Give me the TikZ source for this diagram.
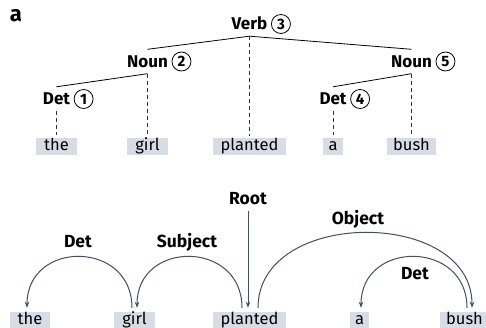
\documentclass[tikz,border=0pt]{standalone}
\usepackage{fontspec}
\setmainfont{Fira Sans}
\usetikzlibrary{arrows.meta}
\definecolor{arcc}{HTML}{3F4E6B}
\definecolor{wordbg}{HTML}{D8DCE5}
\begin{document}
\begin{tikzpicture}[x=1pt,y=-1pt,
  word/.style={fill=wordbg, inner xsep=0pt, inner ysep=1pt, text height=11.5pt, text depth=3.5pt, font=\fontsize{16.5}{16.5}\selectfont},
  lab/.style={font=\fontsize{17}{17}\selectfont\bfseries, inner xsep=0pt, inner ysep=6pt, text height=12pt, text depth=0pt},
  num/.style={circle, draw, line width=0.8pt, inner sep=0pt, minimum size=19pt, font=\fontsize{15}{15}\selectfont\bfseries, anchor=west, xshift=3.5pt},
  tree/.style={line width=0.8pt},
  dsh/.style={line width=0.8pt, dash pattern=on 4pt off 3pt, black!80},
  arc/.style={arcc, line width=1pt, -{Stealth[length=6pt,width=4.5pt]}},
  arcl/.style={font=\fontsize{17.5}{17.5}\selectfont\bfseries, inner sep=0pt, text height=12pt, text depth=0pt}
]
\useasboundingbox (0,0) rectangle (486,328);

% panel label
\node[font=\fontsize{22}{22}\selectfont\bfseries, inner sep=0pt] (panel) at (16,16) {a};

% ---- constituency tree ----
\node[lab] (verb)  at (249.5,24)   {Verb};
\node[num] (c3) at (verb.east) {3};
\node[lab] (noun2) at (147.5,61.5) {Noun};
\node[num] (c2) at (noun2.east) {2};
\node[lab] (det1)  at (56.5,99)    {Det};
\node[num] (c1) at (det1.east) {1};
\node[lab] (noun5) at (411.5,61.5) {Noun};
\node[num] (c5) at (noun5.east) {5};
\node[lab] (det4)  at (333,99)     {Det};
\node[num] (c4) at (det4.east) {4};

\node[word, minimum width=41pt] (the1)     at (56.5,146.5)  {the};
\node[word, minimum width=41pt] (girl1)    at (147.5,146.5) {girl};
\node[word, minimum width=73pt] (planted1) at (249.5,146.5) {planted};
\node[word, minimum width=20pt] (a1)       at (333,146.5)   {a};
\node[word, minimum width=49pt] (bush1)    at (411.5,146.5) {bush};

\draw[tree] (noun2.north) -- (verb.south) -- (noun5.north);
\draw[tree] (det1.north) -- (noun2.south);
\draw[tree] (det4.north) -- (noun5.south);

\draw[dsh] (det1.south)  -- ([yshift=3pt]the1.north);
\draw[dsh] (noun2.south) -- ([yshift=3pt]girl1.north);
\draw[dsh] (verb.south)  -- ([yshift=2pt]planted1.north);
\draw[dsh] (det4.south)  -- ([yshift=3pt]a1.north);
\draw[dsh] (noun5.south) -- ([yshift=3pt]bush1.north);

% ---- dependency graph ----
\node[word, minimum width=40pt] (the2)     at (30,320.5)    {the};
\node[word, minimum width=41pt] (girl2)    at (134.5,320.5) {girl};
\node[word, minimum width=73pt] (planted2) at (249.5,320.5) {planted};
\node[word, minimum width=19pt] (a2)       at (359.5,320.5) {a};
\node[word, minimum width=49pt] (bush2)    at (464.5,320.5) {bush};

\node[arcl] (root)  at (248,198.5) {Root};
\node[arcl] (ldet)  at (78,241.5)  {Det};
\node[arcl] (lsubj) at (187,241.5) {Subject};
\node[arcl] (lobj)  at (358,219)   {Object};
\node[arcl] (ldet2) at (415,273)   {Det};

\draw[arc] ([yshift=-6pt]root.south) -- ([xshift=-1.5pt,yshift=4pt]planted2.north);
\draw[arc] ([xshift=-2.5pt,yshift=4pt]girl2.north) .. controls +(0,-68) and +(0,-68) .. ([xshift=-3pt,yshift=4pt]the2.north);
\draw[arc] ([xshift=-7.5pt,yshift=4pt]planted2.north) .. controls +(0,-68) and +(0,-68) .. ([xshift=2.5pt,yshift=4pt]girl2.north);
\draw[arc] ([xshift=8.5pt,yshift=4pt]planted2.north) .. controls +(0,-100) and +(0,-100) .. ([xshift=7.5pt,yshift=4pt]bush2.north);
\draw[arc] ([xshift=2.5pt,yshift=4pt]bush2.north) .. controls +(0,-68) and +(0,-68) .. ([xshift=1.5pt,yshift=4pt]a2.north);
\end{tikzpicture}
\end{document}
